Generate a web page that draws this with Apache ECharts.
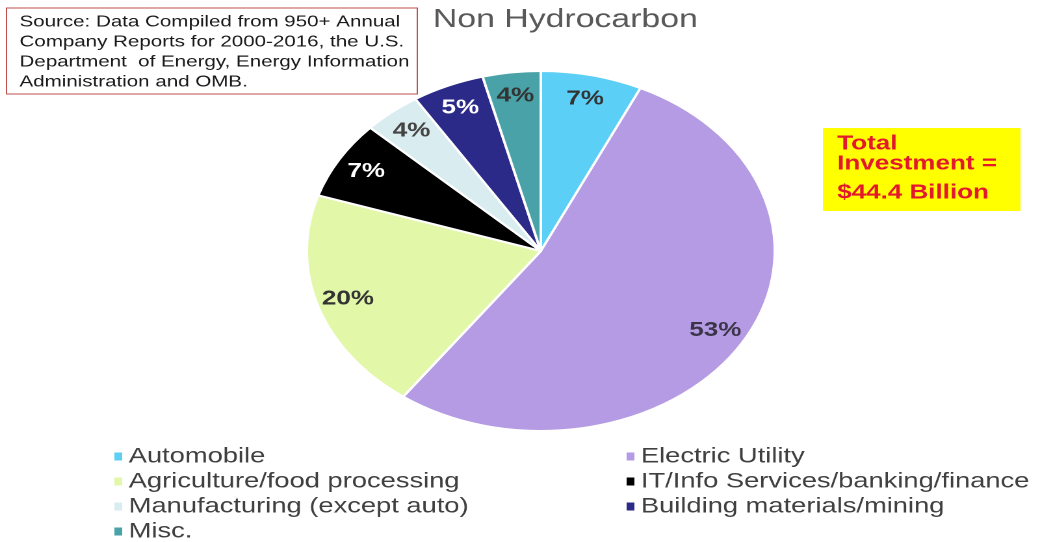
<!DOCTYPE html>
<html>
<head>
<meta charset="utf-8">
<title>Non Hydrocarbon</title>
<script src="https://cdn.jsdelivr.net/npm/echarts@6/dist/echarts.min.js"></script>
<style>
html, body { margin: 0; padding: 0; background: #fff; overflow: hidden; }
/* the source picture is stretched wide, so draw at 800px and stretch to 1040 */
#chart { width: 800px; height: 542px; transform: scaleX(1.3); transform-origin: 0 0; }
</style>
</head>
<body>
<div id="chart"></div>
<script>
// 数据
const sectors = [
  'Automobile',
  'Electric Utility',
  'Agriculture/food processing',
  'IT/Info Services/banking/finance',
  'Manufacturing (except auto)',
  'Building materials/mining',
  'Misc.'
];
const shares = [7, 53, 20, 7, 4, 5, 4];

const sliceColors = ['#5ccff6', '#b49be3', '#e3f7a9', '#000000', '#d9ecef', '#2b2a88', '#49a2a8'];
const labelColors = ['#333333', '#3b3449', '#333333', '#ffffff', '#444444', '#ffffff', '#333333'];

const sourceNote = 'Source: Data Compiled from 950+ Annual\nCompany Reports for 2000-2016, the U.S.\nDepartment  of Energy, Energy Information\nAdministration and OMB.';

const chart = echarts.init(document.getElementById('chart'), null, { devicePixelRatio: 2 });

const pieData = sectors.map((name, i) => ({
  name: name,
  value: shares[i],
  itemStyle: { color: sliceColors[i] }
}));

const labelData = sectors.map((name, i) => ({
  name: name,
  value: shares[i],
  label: { color: labelColors[i] }
}));

// 图例分两列
const leftColumn = sectors.filter((s, i) => i % 2 === 0);
const rightColumn = sectors.filter((s, i) => i % 2 === 1);

const legendBase = {
  orient: 'vertical',
  top: 446,
  padding: 0,
  itemGap: 4,
  icon: 'rect',
  itemWidth: 6,
  itemHeight: 8,
  itemStyle: { borderWidth: 0 },
  selectedMode: false,
  textStyle: {
    fontFamily: 'Liberation Sans',
    fontSize: 21,
    lineHeight: 21,
    color: '#404040'
  }
};

const option = {
  backgroundColor: '#ffffff',
  animation: false,
  legend: [
    Object.assign({}, legendBase, { left: 88, data: leftColumn }),
    Object.assign({}, legendBase, { left: 482, data: rightColumn })
  ],
  graphic: [
    {
      type: 'rect',
      shape: { x: 5, y: 8, width: 316, height: 86 },
      style: { fill: '#ffffff', stroke: '#c0504d', lineWidth: 1 }
    },
    {
      type: 'text',
      x: 15, y: 12,
      style: {
        text: sourceNote,
        font: '15.8px "Liberation Sans"',
        lineHeight: 20,
        fill: '#1a1a1a'
      }
    },
    {
      type: 'text',
      x: 333, y: 7,
      style: {
        text: 'Non Hydrocarbon',
        font: '26px "Liberation Sans"',
        fill: '#595959'
      }
    },
    {
      type: 'rect',
      shape: { x: 633, y: 128, width: 152, height: 83 },
      style: { fill: '#ffff00' }
    },
    {
      type: 'text',
      x: 644, y: 134,
      style: {
        text: 'Total\nInvestment =',
        font: 'bold 20px "Liberation Sans"',
        lineHeight: 20,
        fill: '#e3182d'
      }
    },
    {
      type: 'text',
      x: 644, y: 183,
      style: {
        text: '$44.4 Billion',
        font: 'bold 20px "Liberation Sans"',
        lineHeight: 20,
        fill: '#e3182d'
      }
    }
  ],
  series: [
    {
      name: 'Non Hydrocarbon',
      type: 'pie',
      center: [416, 251],
      radius: [0, 180],
      startAngle: 90,
      clockwise: true,
      label: { show: false },
      labelLine: { show: false },
      itemStyle: { borderColor: '#ffffff', borderWidth: 2 },
      emphasis: { disabled: true },
      data: pieData
    },
    {
      // 只用来放百分比标签，靠近外圈
      name: 'labels',
      type: 'pie',
      center: [416, 251],
      radius: [126, 180],
      startAngle: 90,
      clockwise: true,
      silent: true,
      itemStyle: { color: 'rgba(0,0,0,0)', borderWidth: 0 },
      emphasis: { disabled: true },
      label: {
        show: true,
        position: 'inside',
        formatter: '{c}%',
        fontFamily: 'Liberation Sans',
        fontWeight: 'bold',
        fontSize: 20
      },
      labelLine: { show: false },
      data: labelData
    }
  ]
};

chart.setOption(option);
</script>
</body>
</html>
